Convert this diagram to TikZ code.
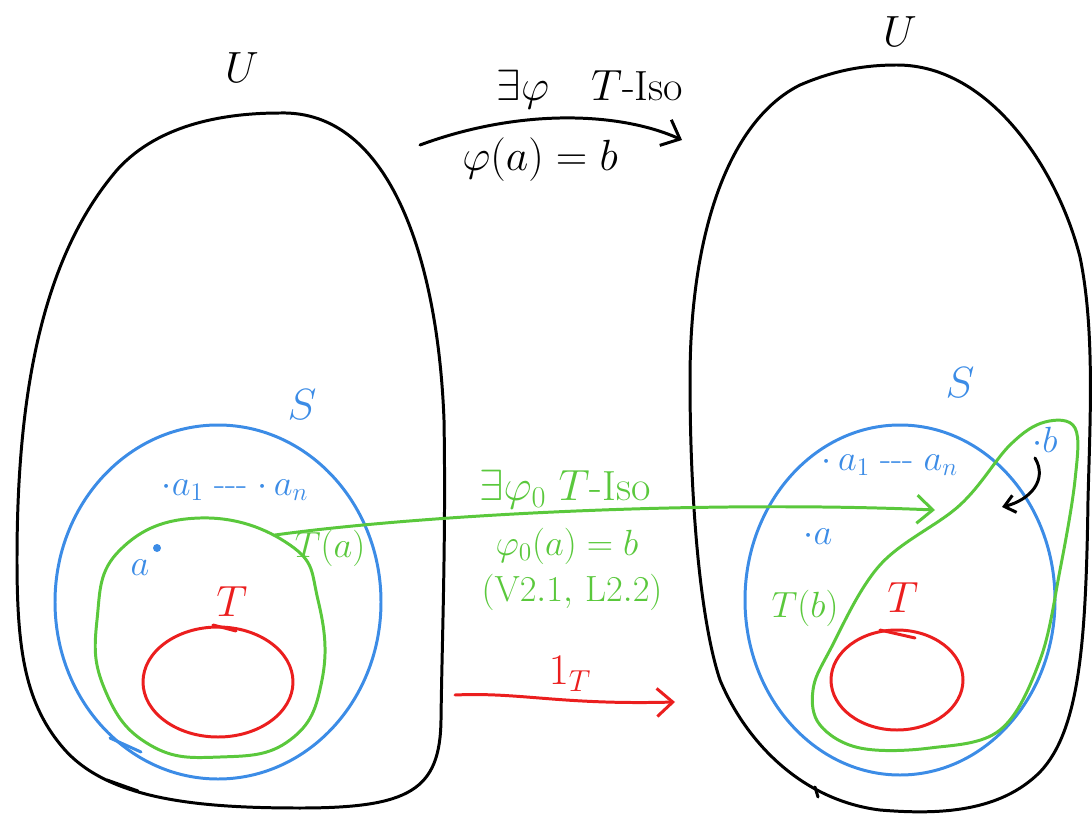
\documentclass[tikz,border=0pt]{standalone}
\usetikzlibrary{arrows.meta}
\definecolor{hblue}{RGB}{60,140,230}
\definecolor{hgreen}{RGB}{90,200,60}
\definecolor{hred}{RGB}{235,30,30}
\begin{document}
\begin{tikzpicture}[x=0.02cm,y=-0.02cm,
  pen/.style={line width=1.7pt,line cap=round,line join=round},
  barb/.style={-{Straight Barb[length=9pt,width=16pt,line width=1.7pt]}},
  big/.style={inner sep=0pt,font=\fontsize{30}{34}\selectfont},
  lbl/.style={inner sep=0pt,font=\fontsize{24}{28}\selectfont},
  mlbl/.style={inner sep=0pt,font=\fontsize{22}{26}\selectfont},
  slbl/.style={inner sep=0pt,font=\fontsize{21}{25}\selectfont}]
\useasboundingbox (0,0) rectangle (1092,821);
% universes
\draw[pen] (280,113) .. controls (390,110) and (438,260) .. (444,420)
  .. controls (446,540) and (442,640) .. (441,720)
  .. controls (440,790) and (410,808) .. (300,808)
  .. controls (200,808) and (110,800) .. (65,750)
  .. controls (25,705) and (17,650) .. (17,560)
  .. controls (17,400) and (40,260) .. (117,170)
  .. controls (160,122) and (230,113) .. (280,113) -- cycle;
\draw[pen] (897,65) .. controls (990,65) and (1058,170) .. (1080,257)
  .. controls (1095,330) and (1090,420) .. (1088,500)
  .. controls (1086,640) and (1080,730) .. (1040,772)
  .. controls (1000,812) and (940,815) .. (880,810)
  .. controls (800,800) and (745,740) .. (720,680)
  .. controls (700,620) and (690,500) .. (690,380)
  .. controls (690,230) and (730,120) .. (800,85)
  .. controls (835,70) and (865,65) .. (897,65) -- cycle;
\node[big] (UL) at (242,68) {$U$};
\node[big] (UR) at (900,32) {$U$};
% left side
\draw[pen,hblue] (218,602) ellipse (163 and 177);
\node[lbl,text=hblue] (SL) at (302,405) {$S$};
\draw[pen,hgreen] plot[smooth cycle,tension=0.75] coordinates {(200,518) (290,545) (318,600) (322,680) (290,740) (220,757) (150,745) (105,690) (97,620) (120,550)};
\draw[pen,hred] (218,682) ellipse (75 and 55);
\node[lbl,text=hred] (TL) at (232,602) {$T$};
\node[slbl,text=hblue] (anL) at (235,490) {${\cdot}a_1 \;\textrm{-{}-{}-}\; {\cdot}\,a_n$};
\node[slbl,text=hblue] (aL) at (140,568) {$a$};
\fill[hblue] (157,548) circle (4);
\node[slbl,text=hgreen] (TaL) at (330,548) {$T(a)$};
% hand-drawn ticks (left)
\draw[pen] (107,780) -- (138,791);
\draw[pen,hblue] (110,738) -- (141,752);
\draw[pen,hred] (213,625) -- (236,631);
% right side
\draw[pen,hblue] (900,600) ellipse (155 and 175);
\node[lbl,text=hblue] (SR) at (960,383) {$S$};
\draw[pen,hgreen] plot[smooth cycle,tension=0.6] coordinates {(830,650) (880,565) (960,505) (1010,445) (1045,422) (1075,428) (1075,480) (1060,570) (1040,660) (1000,730) (930,748) (860,748) (820,725) (813,690)};
\draw[pen,hred] (897,680) ellipse (66 and 50);
\node[lbl,text=hred] (TR) at (903,598) {$T$};
\node[slbl,text=hblue] (anR) at (890,465) {${\cdot}\,a_1 \;\textrm{-{}-{}-}\; a_n$};
\node[slbl,text=hblue] (aR) at (818,536) {${\cdot}a$};
\node[slbl,text=hblue] (bR) at (1045,440) {${\cdot}b$};
\node[slbl,text=hgreen] (TbR) at (805,608) {$T(b)$};
% hand-drawn ticks (right)
\draw[pen] (815,787) -- (818,797);
\draw[pen,hred] (880,630) -- (915,638);
% top arrow
\coordinate (p1) at (420,145);
\coordinate (p2) at (682,140);
\draw[pen,barb] (p1) .. controls (520,108) and (620,112) .. (p2);
\node[lbl] (phi) at (590,90) {$\exists\varphi\quad T\textrm{-Iso}$};
\node[lbl] (phiab) at (540,160) {$\varphi(a)=b$};
% green arrow
\coordinate (g1) at (275,535);
\coordinate (g2) at (935,510);
\draw[pen,hgreen,barb] (g1) .. controls (420,515) and (700,500) .. (g2);
\node[lbl,text=hgreen] (phi0) at (565,490) {$\exists\varphi_0\; T\textrm{-Iso}$};
\node[mlbl,text=hgreen] (phi0ab) at (567,546) {$\varphi_0(a)=b$};
\node[mlbl,text=hgreen] (ref) at (572,592) {$(\mathrm{V2.1},\,\mathrm{L2.2})$};
% red arrow
\coordinate (r1) at (455,695);
\coordinate (r2) at (675,702);
\draw[pen,hred,barb] (r1) .. controls (520,692) and (560,705) .. (r2);
\node[lbl,text=hred] (oneT) at (570,674) {$1_T$};
% small black arrow
\coordinate (s1) at (1035,458);
\coordinate (s2) at (1002,507);
\draw[pen,-{Straight Barb[length=6pt,width=10pt,line width=1.7pt]}] (s1) .. controls (1048,480) and (1030,500) .. (s2);
\end{tikzpicture}
\end{document}
